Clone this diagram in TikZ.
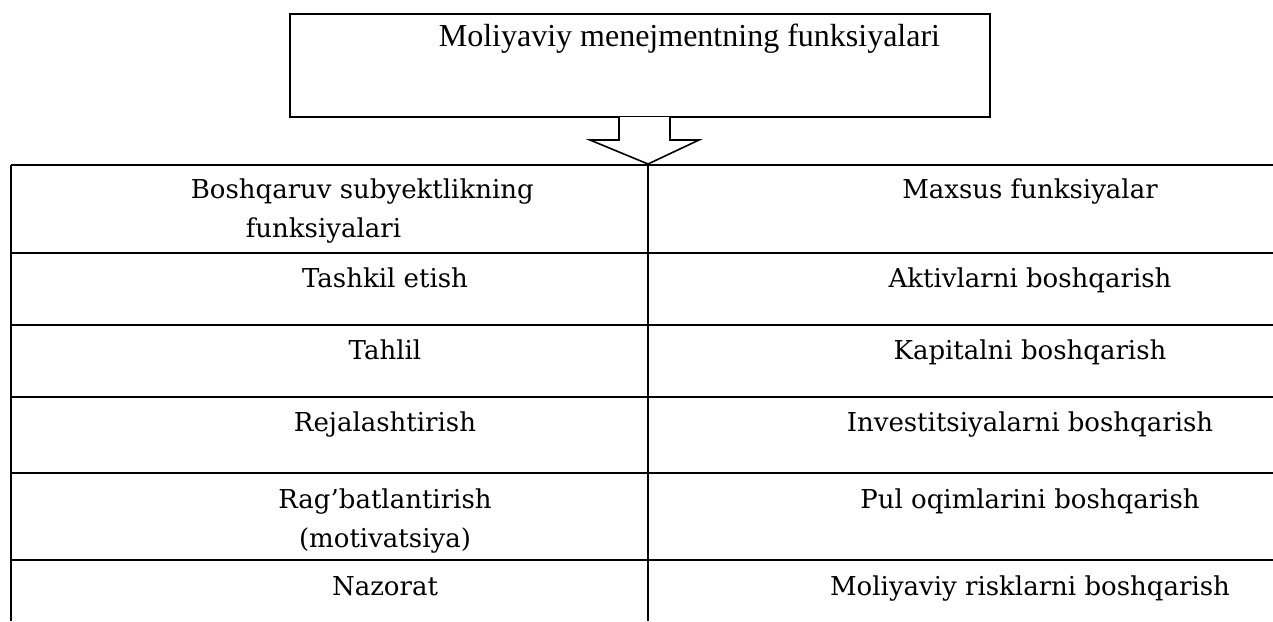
\documentclass[tikz,border=0pt]{standalone}
\usepackage{fontspec}
\setmainfont{Liberation Serif}
\newfontfamily\cellfont{DejaVu Serif}
\usepackage{tikz}

\begin{document}
\begin{tikzpicture}[
		x=1pt,
		y=-1pt,
		line width=1.6pt,
		cell/.style={font=\cellfont\fontsize{26}{39}\selectfont, inner sep=0pt},
		head/.style={font=\fontsize{32}{36}\selectfont, inner sep=0pt}
	]
		\useasboundingbox (0,0) rectangle (1273,621);
		% top box and block arrow
		\draw[line width=2pt] (290,14) rectangle (990,117);
		\node[head, anchor=base west] (title) at (438,46) {Moliyaviy menejmentning funksiyalari};
		\draw[fill=white] (619,117) -- (619,140) -- (590,140) -- (648,164) -- (699,140) -- (670,140) -- (670,117);
		% table lines
		\draw (11,165) -- (1273,165);
		\draw (11,253) -- (1273,253);
		\draw (11,325) -- (1273,325);
		\draw (11,397) -- (1273,397);
		\draw (11,473) -- (1273,473);
		\draw (11,560) -- (1273,560);
		\draw (11,165) -- (11,621);
		\draw (648,165) -- (648,621);
		% left column
		\node[cell, anchor=base west] (subj1) at (190,198) {Boshqaruv subyektlikning};
		\node[cell, anchor=base west] (subj2) at (245,237) {funksiyalari};
		\node[cell, anchor=base] (tashkil) at (385,287) {Tashkil etish};
		\node[cell, anchor=base] (tahlil) at (385,359) {Tahlil};
		\node[cell, anchor=base] (reja) at (385,431) {Rejalashtirish};
		\node[cell, anchor=base] (rag1) at (385,508) {Rag’batlantirish};
		\node[cell, anchor=base] (rag2) at (385,547) {(motivatsiya)};
		\node[cell, anchor=base] (nazorat) at (385,595) {Nazorat};
		% right column
		\node[cell, anchor=base] (maxsus) at (1030,198) {Maxsus funksiyalar};
		\node[cell, anchor=base] (aktiv) at (1030,287) {Aktivlarni boshqarish};
		\node[cell, anchor=base] (kapital) at (1030,359) {Kapitalni boshqarish};
		\node[cell, anchor=base] (invest) at (1030,431) {Investitsiyalarni boshqarish};
		\node[cell, anchor=base] (pul) at (1030,508) {Pul oqimlarini boshqarish};
		\node[cell, anchor=base] (risk) at (1030,595) {Moliyaviy risklarni boshqarish};
	\end{tikzpicture}
\end{document}
